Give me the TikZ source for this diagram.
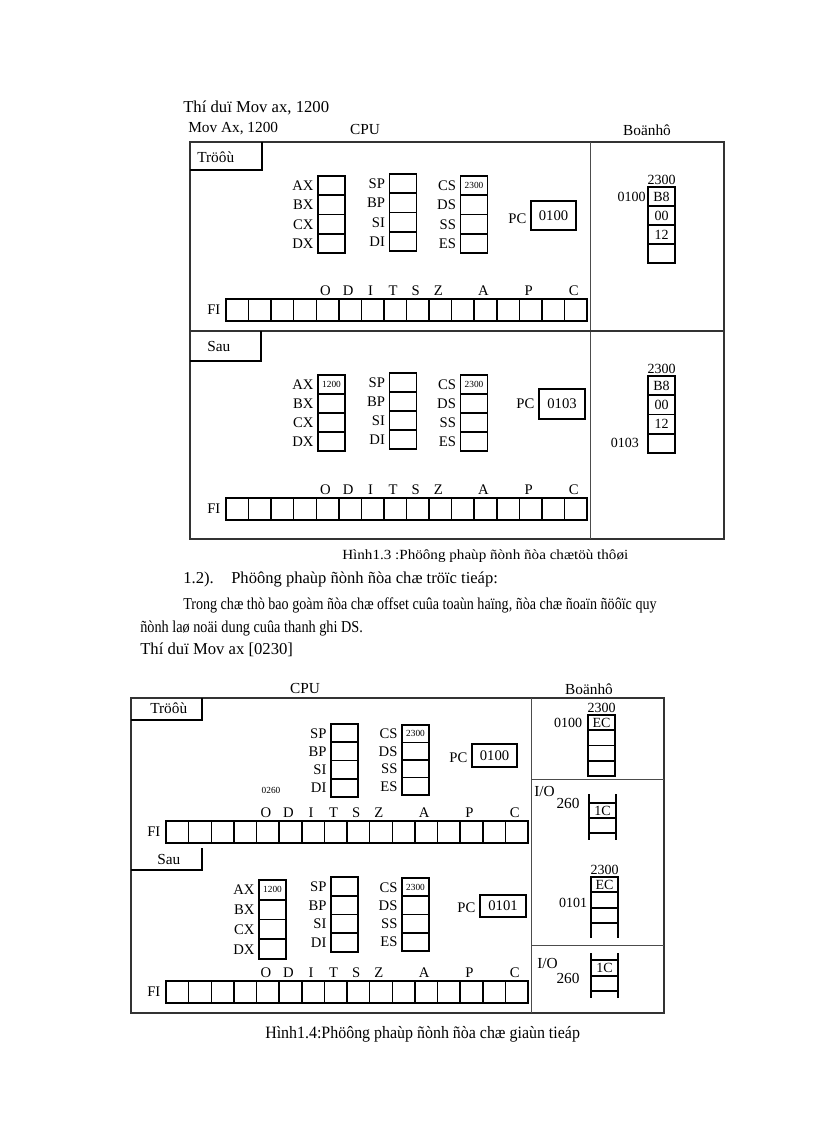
\documentclass[tikz,border=0pt]{standalone}
\usepackage{fontspec}
\setmainfont{Liberation Serif}
\usetikzlibrary{positioning}

\begin{document}
\begin{tikzpicture}[
  x=0.75pt, y=-0.75pt,
  every node/.style={inner sep=1pt},
  frame/.style={draw=black!80, line width=0.9pt},
  divider/.style={draw=black!70, line width=0.7pt},
  tab/.style={draw, line width=0.9pt},
  reg/.style={draw, line width=1.4pt, minimum width=20.25pt, minimum height=#1,
    inner sep=0pt, font=\fontsize{7}{8}\selectfont},
  reg/.default=14.4pt,
  flag/.style={draw, line width=1.1pt, minimum width=16.95pt, minimum height=16.5pt, inner sep=0pt},
  pcbox/.style={draw, line width=1.5pt, minimum width=33.75pt, inner sep=0pt,
    font=\fontsize{11}{13}\selectfont},
  mem/.style={draw, line width=1.3pt, minimum width=20.25pt, minimum height=#1,
    inner sep=0pt, font=\fontsize{10.5}{12}\selectfont},
  mem/.default=14.25pt,
  ladder/.style={draw, line width=1.3pt},
  lbl/.style={font=\fontsize{11}{12}\selectfont, inner sep=0.5pt, text height=7.4pt, text depth=0pt},
  tiny/.style={font=\fontsize{7}{8}\selectfont, inner sep=0pt},
  num/.style={font=\fontsize{10.5}{12}\selectfont, inner sep=0pt},
  head/.style={font=\fontsize{11.5}{14}\selectfont, inner sep=0pt},
  body/.style={font=\fontsize{12.5}{15}\selectfont, inner sep=0pt, anchor=west},
  captext/.style={inner sep=0pt, anchor=west}]

  \useasboundingbox (0,0) rectangle (816,1123);

  % ---- text above figure 1.3 -----------------------------------------------
  \node[body] (ex1) at (183,108) {Thí duï Mov ax, 1200};
  \node[head, anchor=west] (op1) at (188,129) {Mov Ax, 1200};
  \node[head] (cpu1) at (365,130) {CPU};
  \node[head] (bn1) at (647,130) {Boänhô};

  % ---- figure 1.3: frame, divider and the two tabs --------------------------
  \draw[frame] (190,142) rectangle (724,539);
  \draw[divider] (590,142) -- (590,539);
  \draw[frame] (190,331) -- (724,331);
  \draw[tab] (190,170) -| (262,142);
  \draw[tab] (190,361) -| (261,331);
  \node[head, anchor=west] (tr1) at (197,157) {Tröôù};
  \node[head, anchor=west] (sau1) at (207,346) {Sau};

  % ---- figure 1.3, before: registers ---------------------------------------
  \foreach \n [count=\i from 0] in {AX,BX,CX,DX}{
    \node[reg] (a\n) at (331.5,{185.6+19.25*\i}) {};
    \node[lbl, left=2pt of a\n] (a\n-l) {\n};
  }
  \foreach \n [count=\i from 0] in {SP,BP,SI,DI}{
    \node[reg] (a\n) at (403,{183.6+19.25*\i}) {};
    \node[lbl, left=2pt of a\n] (a\n-l) {\n};
  }
  \foreach \n [count=\i from 0] in {CS,DS,SS,ES}{
    \node[reg] (a\n) at (474,{185.6+19.25*\i}) {};
    \node[lbl, left=2pt of a\n] (a\n-l) {\n};
  }
  \node[tiny] (aCS-v) at (aCS) {2300};
  \node[pcbox, minimum height=21.75pt] (aPC) at (553.5,215.5) {0100};
  \node[lbl, left=2pt of aPC, yshift=-2pt] (aPC-l) {PC};

  % ---- figure 1.3, before: flags --------------------------------------------
  \foreach \i in {0,...,15}
    \node[flag] (af\i) at ({226+22.5625*(\i+0.5)},310) {};
  \foreach \i/\c in {4/O,5/D,6/I,7/T,8/S,9/Z,11/A,13/P,15/C}
    \node[lbl, above=1.5pt of af\i, xshift=-1.5pt] (af\i-t) {\c};
  \node[lbl, left=3pt of af0] (af-l) {FI};

  % ---- figure 1.3, before: memory -------------------------------------------
  \foreach \v [count=\i from 0] in {B8,00,12,{}}
    \node[mem] (ma\i) at (661.5,{196.5+19*\i}) {\v};
  \node[num, above=1pt of ma0] (ma-seg) {2300};
  \node[num, left=1pt of ma0] (ma-off) {0100};

  % ---- figure 1.3, after: registers ----------------------------------------
  \foreach \n [count=\i from 0] in {AX,BX,CX,DX}{
    \node[reg=14.25pt] (b\n) at (331.5,{384.5+19*\i}) {};
    \node[lbl, left=2pt of b\n] (b\n-l) {\n};
  }
  \foreach \n [count=\i from 0] in {SP,BP,SI,DI}{
    \node[reg=14.25pt] (b\n) at (403,{382.5+19*\i}) {};
    \node[lbl, left=2pt of b\n] (b\n-l) {\n};
  }
  \foreach \n [count=\i from 0] in {CS,DS,SS,ES}{
    \node[reg=14.25pt] (b\n) at (474,{384.5+19*\i}) {};
    \node[lbl, left=2pt of b\n] (b\n-l) {\n};
  }
  \node[tiny] (bAX-v) at (bAX) {1200};
  \node[tiny] (bCS-v) at (bCS) {2300};
  \node[pcbox, minimum width=34.5pt, minimum height=22.5pt] (bPC) at (562,404) {0103};
  \node[lbl, left=2pt of bPC] (bPC-l) {PC};

  % ---- figure 1.3, after: flags ---------------------------------------------
  \foreach \i in {0,...,15}
    \node[flag] (bf\i) at ({226+22.5625*(\i+0.5)},509) {};
  \foreach \i/\c in {4/O,5/D,6/I,7/T,8/S,9/Z,11/A,13/P,15/C}
    \node[lbl, above=1.5pt of bf\i, xshift=-1.5pt] (bf\i-t) {\c};
  \node[lbl, left=3pt of bf0] (bf-l) {FI};

  % ---- figure 1.3, after: memory --------------------------------------------
  \foreach \v [count=\i from 0] in {B8,00,12,{}}
    \node[mem=14.4pt] (mb\i) at (661.5,{385.6+19.25*\i}) {\v};
  \node[num, above=1pt of mb0] (mb-seg) {2300};
  \node[num, left=6pt of mb3] (mb-off) {0103};

  % ---- caption and text between the figures ---------------------------------
  \node[captext, font=\fontsize{10.5}{12}\selectfont] (cap1) at (342,556)
    {\resizebox{214.5pt}{\height}{Hình1.3 :Phöông phaùp ñònh ñòa chætöù thôøi}};
  \node[body] (sec) at (183,579) {1.2).};
  \node[body] (sec-t) at (231,579)
    {\resizebox{200pt}{\height}{Phöông phaùp ñònh ñòa chæ tröïc tieáp:}};
  \node[body] (par1) at (183,605)
    {\resizebox{355pt}{\height}{Trong chæ thò bao goàm ñòa chæ offset cuûa toaùn haïng, ñòa chæ ñoaïn ñöôïc quy}};
  \node[body] (par2) at (140,628)
    {\resizebox{167pt}{\height}{ñònh laø noäi dung cuûa thanh ghi DS.}};
  \node[body] (ex2) at (140,650) {Thí duï Mov ax [0230]};

  % ---- figure 1.4: frame, dividers and the two tabs -------------------------
  \node[head] (cpu2) at (305,688) {CPU};
  \node[head] (bn2) at (589,689) {Boänhô};
  \draw[frame] (131,698) rectangle (664,1013);
  \draw[divider] (531,698) -- (531,1013);
  \draw[divider] (531,779) -- (664,779);
  \draw[divider] (531,945) -- (664,945);
  \draw[tab] (131,720) -| (202,698);
  \draw[tab] (202,848) |- (131,870);
  \node[head, anchor=west] (tr2) at (150,708) {Tröôù};
  \node[head, anchor=west] (sau2) at (157,859) {Sau};

  % ---- figure 1.4, before: registers ---------------------------------------
  \foreach \n [count=\i from 0] in {SP,BP,SI,DI}{
    \node[reg=13.7pt] (c\n) at (344.5,{733.1+18.25*\i}) {};
    \node[lbl, left=2pt of c\n] (c\n-l) {\n};
  }
  \foreach \n [count=\i from 0] in {CS,DS,SS,ES}{
    \node[reg=13.1pt] (c\n) at (415.5,{733.75+17.5*\i}) {};
    \node[lbl, left=2pt of c\n] (c\n-l) {\n};
  }
  \node[tiny] (cCS-v) at (cCS) {2300};
  \node[tiny] (c-addr) at (271,790) {0260};
  \node[pcbox, minimum height=17.25pt] (cPC) at (494.5,755.5) {0100};
  \node[lbl, left=2pt of cPC, yshift=-1.5pt] (cPC-l) {PC};

  % ---- figure 1.4, before: flags --------------------------------------------
  \foreach \i in {0,...,15}
    \node[flag] (cf\i) at ({166+22.625*(\i+0.5)},832) {};
  \foreach \i/\c in {4/O,5/D,6/I,7/T,8/S,9/Z,11/A,13/P,15/C}
    \node[lbl, above=1.5pt of cf\i, xshift=-1.5pt] (cf\i-t) {\c};
  \node[lbl, left=3pt of cf0] (cf-l) {FI};

  % ---- figure 1.4, before: memory and I/O ----------------------------------
  \foreach \v [count=\i from 0] in {EC,{},{},{}}
    \node[mem=11.45pt] (mc\i) at (601.5,{722.6+15.25*\i}) {\v};
  \node[num, above=1pt of mc0] (mc-seg) {2300};
  \node[num, left=3.5pt of mc0] (mc-off) {0100};
  \node[head, anchor=west] (cio) at (534,791) {I/O};
  \node[head] (cio-a) at (568,803) {260};
  \node[mem=11.25pt] (cio-c) at (602.5,810.5) {1C};
  \draw[ladder] (589,794) -- (589,840);
  \draw[ladder] (616,794) -- (616,840);
  \draw[ladder] (589,833) -- (616,833);

  % ---- figure 1.4, after: registers ----------------------------------------
  \foreach \n [count=\i from 0] in {AX,BX,CX,DX}{
    \node[reg=14.8pt] (d\n) at (272.5,{889.9+19.75*\i}) {};
    \node[lbl, left=2pt of d\n] (d\n-l) {\n};
  }
  \foreach \n [count=\i from 0] in {SP,BP,SI,DI}{
    \node[reg=14.05pt] (d\n) at (344.5,{886.4+18.75*\i}) {};
    \node[lbl, left=2pt of d\n] (d\n-l) {\n};
  }
  \foreach \n [count=\i from 0] in {CS,DS,SS,ES}{
    \node[reg=13.7pt] (d\n) at (415.5,{887.1+18.25*\i}) {};
    \node[lbl, left=2pt of d\n] (d\n-l) {\n};
  }
  \node[tiny] (dAX-v) at (dAX) {1200};
  \node[tiny] (dCS-v) at (dCS) {2300};
  \node[pcbox, minimum width=34.5pt, minimum height=16.5pt] (dPC) at (503,906) {0101};
  \node[lbl, left=2pt of dPC, yshift=-1.5pt] (dPC-l) {PC};

  % ---- figure 1.4, after: flags ---------------------------------------------
  \foreach \i in {0,...,15}
    \node[flag] (df\i) at ({166+22.625*(\i+0.5)},992) {};
  \foreach \i/\c in {4/O,5/D,6/I,7/T,8/S,9/Z,11/A,13/P,15/C}
    \node[lbl, above=1.5pt of df\i, xshift=-1.5pt] (df\i-t) {\c};
  \node[lbl, left=3pt of df0] (df-l) {FI};

  % ---- figure 1.4, after: memory and I/O -----------------------------------
  \foreach \v [count=\i from 0] in {EC,{},{}}
    \node[mem=11.5pt] (md\i) at (604.5,{884.7+15.3*\i}) {\v};
  \draw[ladder] (591,923) -- (591,938);
  \draw[ladder] (618,923) -- (618,938);
  \node[num, above=1pt of md0] (md-seg) {2300};
  \node[num] (md-off) at (573,903) {0101};
  \node[head, anchor=west] (dio) at (537,963) {I/O};
  \node[head] (dio-a) at (568,978) {260};
  \node[mem=12pt] (dio-c) at (604.5,968) {1C};
  \draw[ladder] (591,953) -- (591,998);
  \draw[ladder] (618,953) -- (618,998);
  \draw[ladder] (591,991) -- (618,991);

  % ---- caption of figure 1.4 --------------------------------------------------
  \node[captext, font=\fontsize{13}{15}\selectfont] (cap2) at (265,1034)
    {\resizebox{236pt}{\height}{Hình1.4:Phöông phaùp ñònh ñòa chæ giaùn tieáp}};
\end{tikzpicture}
\end{document}
